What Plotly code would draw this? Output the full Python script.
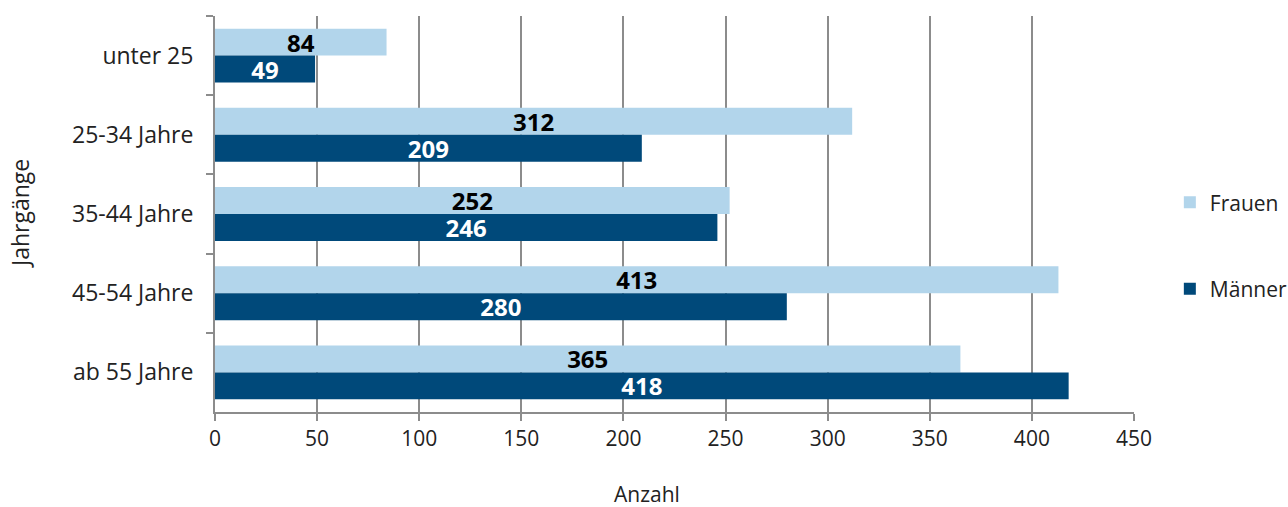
import plotly.graph_objects as go

categories = ["unter 25", "25-34 Jahre", "35-44 Jahre", "45-54 Jahre", "ab 55 Jahre"]
frauen = [84, 312, 252, 413, 365]
maenner = [49, 209, 246, 280, 418]
x_ticks = [0, 50, 100, 150, 200, 250, 300, 350, 400, 450]

FONT = "Open Sans"
TXT = "#222222"
fig = go.Figure()
fig.add_trace(go.Bar(
    y=categories, x=frauen, name="Frauen", orientation="h",
    marker=dict(color="#B2D5EB", line=dict(width=0)),
    text=[str(v) for v in frauen], textposition="inside", insidetextanchor="middle",
    constraintext="none", textangle=0,
    insidetextfont=dict(family=FONT, size=24, color="#000000", weight="bold"),
    legendgroup="f",
))
fig.add_trace(go.Bar(
    y=categories, x=maenner, name="Männer", orientation="h",
    marker=dict(color="#00497A", line=dict(width=0)),
    text=[str(v) for v in maenner], textposition="inside", insidetextanchor="middle",
    constraintext="none", textangle=0,
    insidetextfont=dict(family=FONT, size=24, color="#FFFFFF", weight="bold"),
    legendgroup="m",
))

fig.update_layout(
    width=1288, height=507,
    margin=dict(l=215, r=154, t=16, b=95, autoexpand=False),
    paper_bgcolor="white", plot_bgcolor="white",
    barmode="group", bargap=0.32, bargroupgap=0,
    font=dict(family=FONT, size=21, color=TXT),
    legend=dict(
        x=1.039, xanchor="left", y=0.42, yanchor="middle",
        traceorder="grouped", tracegroupgap=56,
        font=dict(family=FONT, size=21, color=TXT),
        bgcolor="rgba(0,0,0,0)",
    ),
    xaxis=dict(
        range=[0, 450], tickvals=x_ticks, ticktext=[str(v) for v in x_ticks],
        tickfont=dict(family=FONT, size=21, color=TXT),
        showgrid=True, gridcolor="#8C8C8C", gridwidth=2,
        showline=True, linecolor="#8C8C8C", linewidth=2,
        ticks="outside", ticklen=7, tickcolor="#8C8C8C", tickwidth=2,
        zeroline=False, fixedrange=True,
    ),
    yaxis=dict(
        categoryorder="array", categoryarray=categories, autorange="reversed",
        tickfont=dict(family=FONT, size=23, color=TXT),
        showline=True, linecolor="#8C8C8C", linewidth=2,
        ticks="outside", ticklen=7, tickcolor="#8C8C8C", tickwidth=2,
        tickson="boundaries", ticklabelstandoff=15,
        showgrid=False, fixedrange=True,
    ),
    annotations=[
        dict(text="Anzahl", xref="paper", yref="paper", x=0.470, y=0, yshift=-82,
             showarrow=False, xanchor="center", yanchor="middle",
             font=dict(family=FONT, size=21, color=TXT)),
        dict(text="Jahrgänge", xref="paper", yref="paper", x=0, xshift=-195, y=0.5,
             textangle=-90, showarrow=False, xanchor="center", yanchor="middle",
             font=dict(family=FONT, size=23, color=TXT)),
    ],
)

fig.write_html("out.html")
